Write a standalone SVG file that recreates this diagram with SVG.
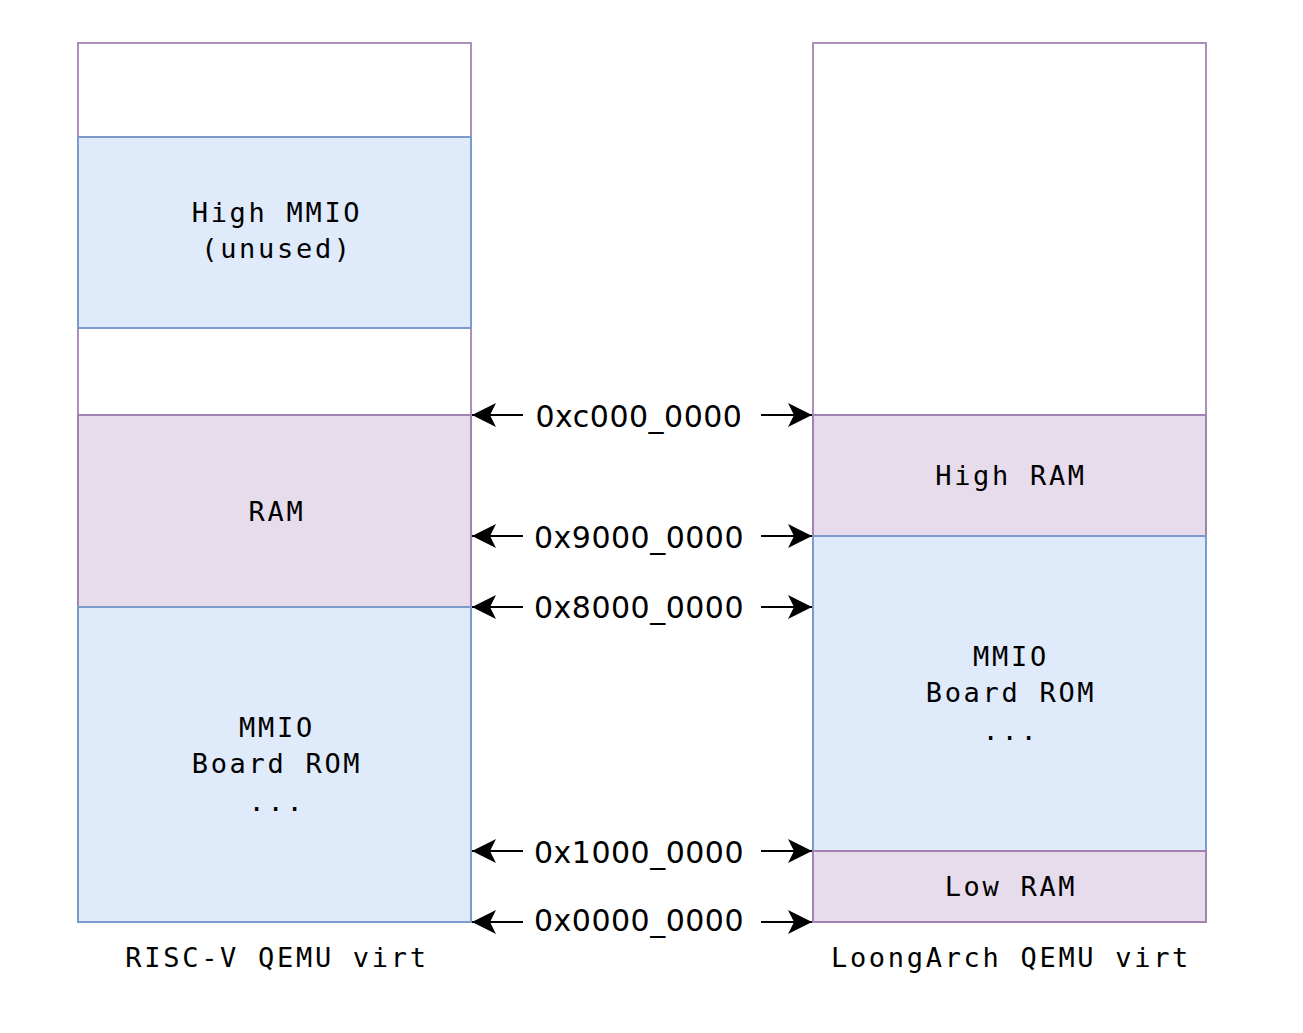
<svg xmlns="http://www.w3.org/2000/svg" width="1303" height="1033" viewBox="0 0 1303 1033">
<style>
.outer{fill:#ffffff;stroke:#ad8fbe;stroke-width:2}
.blue{fill:#dfeafb;stroke:#7b9bcc;stroke-width:2}
.purple{fill:#e7dcec;stroke:#a083b2;stroke-width:2}
.lbl{font-family:"DejaVu Sans Mono","Liberation Mono",monospace;font-size:27px;letter-spacing:2.7px;fill:#000;text-anchor:middle}
.addr{font-family:"DejaVu Sans","Liberation Sans",sans-serif;font-size:30px;letter-spacing:0.5px;fill:#000;text-anchor:middle}
.conn{stroke:#000;stroke-width:2;fill:none;marker-end:url(#ah)}
</style>
<defs>
<marker id="ah" viewBox="0 0 24 24" refX="24" refY="12" markerWidth="24" markerHeight="24" markerUnits="userSpaceOnUse" orient="auto">
<path d="M0,0 L24,12 L0,24 L6,12 Z" fill="#000"/>
</marker>
</defs>
<rect width="1303" height="1033" fill="#ffffff"/>
<g id="riscv">
<rect class="outer" x="78" y="43" width="393" height="879"/>
<g id="riscv-highmmio">
<rect class="blue" x="78" y="137" width="393" height="191"/>
<text class="lbl" x="277" y="222">High MMIO</text>
<text class="lbl" x="277" y="258">(unused)</text>
</g>
<g id="riscv-ram">
<rect class="purple" x="78" y="415" width="393" height="192"/>
<text class="lbl" x="277" y="521">RAM</text>
</g>
<g id="riscv-mmio">
<rect class="blue" x="78" y="607" width="393" height="315"/>
<text class="lbl" x="277" y="737">MMIO</text>
<text class="lbl" x="277" y="773">Board ROM</text>
<text class="lbl" x="277" y="811">...</text>
</g>
<text class="lbl" x="277" y="967">RISC-V QEMU virt</text>
</g>
<g id="loongarch">
<rect class="outer" x="813" y="43" width="393" height="879"/>
<g id="la-highram">
<rect class="purple" x="813" y="415" width="393" height="121"/>
<text class="lbl" x="1011" y="485">High RAM</text>
</g>
<g id="la-mmio">
<rect class="blue" x="813" y="536" width="393" height="315"/>
<text class="lbl" x="1011" y="666">MMIO</text>
<text class="lbl" x="1011" y="702">Board ROM</text>
<text class="lbl" x="1011" y="740">...</text>
</g>
<g id="la-lowram">
<rect class="purple" x="813" y="851" width="393" height="71"/>
<text class="lbl" x="1011" y="896">Low RAM</text>
</g>
<text class="lbl" x="1011" y="967">LoongArch QEMU virt</text>
</g>
<g id="addresses">
<text class="addr" x="639" y="427">0xc000_0000</text>
<text class="addr" x="639" y="548">0x9000_0000</text>
<text class="addr" x="639" y="618">0x8000_0000</text>
<text class="addr" x="639" y="863">0x1000_0000</text>
<text class="addr" x="639" y="931">0x0000_0000</text>
</g>
<g id="connectors">
<line class="conn" x1="523" y1="415" x2="472" y2="415"/>
<line class="conn" x1="761" y1="415" x2="812" y2="415"/>
<line class="conn" x1="523" y1="536" x2="472" y2="536"/>
<line class="conn" x1="761" y1="536" x2="812" y2="536"/>
<line class="conn" x1="523" y1="607" x2="472" y2="607"/>
<line class="conn" x1="761" y1="607" x2="812" y2="607"/>
<line class="conn" x1="523" y1="851" x2="472" y2="851"/>
<line class="conn" x1="761" y1="851" x2="812" y2="851"/>
<line class="conn" x1="523" y1="922" x2="472" y2="922"/>
<line class="conn" x1="761" y1="922" x2="812" y2="922"/>
</g>
</svg>
